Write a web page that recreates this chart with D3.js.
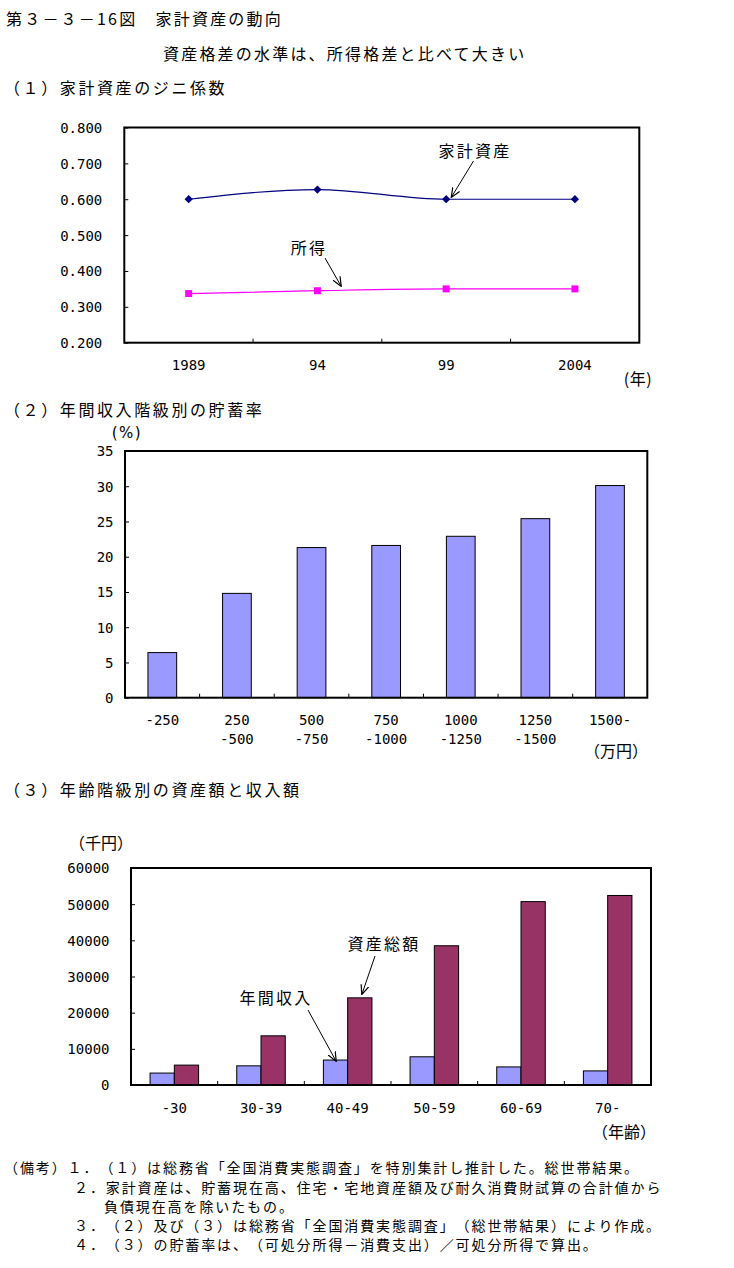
<!DOCTYPE html>
<html><head><meta charset="utf-8">
<script src="https://cdn.jsdelivr.net/npm/d3@7"></script>
<style>
html,body{margin:0;padding:0;background:#fff;}
svg{display:block;text-spacing-trim:space-all;}
</style>
</head><body>
<script>
// ---------- data ----------
const years = ["1989", "94", "99", "2004"];
const assetGini = [0.600, 0.627, 0.600, 0.600];
const incomeGini = [0.337, 0.345, 0.350, 0.350];
const giniTicks = [0.2, 0.3, 0.4, 0.5, 0.6, 0.7, 0.8];

const incomeClasses = ["-250", "250\n-500", "500\n-750", "750\n-1000", "1000\n-1250", "1250\n-1500", "1500-"];
const savingRate = [6.4, 14.8, 21.3, 21.6, 22.9, 25.4, 30.1];
const savingTicks = [0, 5, 10, 15, 20, 25, 30, 35];

const ageClasses = ["-30", "30-39", "40-49", "50-59", "60-69", "70-"];
const annualIncome = [3300, 5300, 6900, 7800, 5000, 3900];
const totalAssets = [5500, 13600, 24100, 38500, 50700, 52400];
const amountTicks = [0, 10000, 20000, 30000, 40000, 50000, 60000];

const notes = [
  "（備考）１．（１）は総務省「全国消費実態調査」を特別集計し推計した。総世帯結果。",
  "２．家計資産は、貯蓄現在高、住宅・宅地資産額及び耐久消費財試算の合計値から",
  "負債現在高を除いたもの。",
  "３．（２）及び（３）は総務省「全国消費実態調査」（総世帯結果）により作成。",
  "４．（３）の貯蓄率は、（可処分所得－消費支出）／可処分所得で算出。"
];

// ---------- setup ----------
const FONT = "'Noto Sans CJK JP',sans-serif";
const NUMFONT = "'DejaVu Sans Mono','Noto Sans Mono CJK JP',monospace";
const svg = d3.select("body").append("svg").attr("width", 734).attr("height", 1268)
  .style("font-family", FONT);
svg.append("rect").attr("width", 734).attr("height", 1268).attr("fill", "#fff");

const defs = svg.append("defs");
defs.append("marker").attr("id", "arr").attr("viewBox", "0 0 10 10")
  .attr("refX", 9).attr("refY", 5).attr("markerWidth", 10).attr("markerHeight", 10)
  .attr("markerUnits", "userSpaceOnUse").attr("orient", "auto")
  .append("path").attr("d", "M0,1 L9.5,5 L0,9").attr("fill", "none").attr("stroke", "#000").attr("stroke-width", 1.2);

function txt(x, y, s, o = {}) {
  return svg.append("text").attr("x", x).attr("y", y).attr("dominant-baseline", "central")
    .attr("text-anchor", o.anchor || "start").attr("font-size", o.size || 16)
    .attr("font-family", o.font || FONT)
    .attr("letter-spacing", o.ls == null ? 2.2 : o.ls).attr("fill", "#000").text(s);
}
function arrow(x1, y1, x2, y2) {
  svg.append("line").attr("x1", x1).attr("y1", y1).attr("x2", x2).attr("y2", y2)
    .attr("stroke", "#000").attr("stroke-width", 1).attr("marker-end", "url(#arr)");
}
function styleAxis(g) {
  g.select(".domain").remove();
  g.selectAll("line").attr("stroke", "#000").attr("stroke-width", 1);
  g.selectAll("text").attr("font-size", 14).attr("font-family", NUMFONT)
    .attr("fill", "#000");
}
function frame(x0, x1, y0, y1) {
  svg.append("rect").attr("x", x0).attr("y", y0).attr("width", x1 - x0).attr("height", y1 - y0)
    .attr("fill", "none").attr("stroke", "#000").attr("stroke-width", 2);
}
function boundaryTicks(scale, n, yBase) {
  const r = scale.range(), step = (r[1] - r[0]) / n;
  for (let i = 1; i < n; i++) {
    svg.append("line").attr("x1", r[0] + i * step).attr("x2", r[0] + i * step)
      .attr("y1", yBase).attr("y2", yBase - 4).attr("stroke", "#000");
  }
}

// ---------- titles ----------
txt(6, 18, "第３－３－16図　家計資産の動向");
txt(163, 53, "資産格差の水準は、所得格差と比べて大きい");
txt(4, 87, "（１）家計資産のジニ係数", { ls: 2.6 });
txt(4, 409, "（２）年間収入階級別の貯蓄率", { ls: 2.6 });
txt(4, 789, "（３）年齢階級別の資産額と収入額", { ls: 2.6 });

// ---------- chart 1 ----------
{
  const L = 124.3, R = 639.3, T = 127.5, B = 342.7;
  const x = d3.scaleBand().domain(years).range([L, R]);
  const y = d3.scaleLinear().domain([0.2, 0.8]).range([B, T]);
  const cx = d => x(d) + x.bandwidth() / 2;

  const ya = svg.append("g").attr("transform", `translate(${L},0)`)
    .call(d3.axisLeft(y).tickValues(giniTicks).tickFormat(d3.format(".3f")).tickSize(-4).tickPadding(22));
  styleAxis(ya);
  ya.selectAll("text").attr("dy", "0.35em");

  const xa = svg.append("g").attr("transform", `translate(0,${B})`)
    .call(d3.axisBottom(x).tickSize(0));
  styleAxis(xa);
  xa.selectAll("text").attr("y", 22).attr("dy", "0.35em");
  boundaryTicks(x, years.length, B);

  const line = d3.line().x((d, i) => cx(years[i])).y(d => y(d)).curve(d3.curveMonotoneX);
  svg.append("path").attr("d", line(assetGini)).attr("fill", "none").attr("stroke", "#000080").attr("stroke-width", 1.2);
  svg.append("path").attr("d", line(incomeGini)).attr("fill", "none").attr("stroke", "#FF00FF").attr("stroke-width", 1.2);

  svg.selectAll(".m1").data(assetGini).join("path")
    .attr("transform", (d, i) => `translate(${cx(years[i])},${y(d)}) rotate(45)`)
    .attr("d", d3.symbol(d3.symbolSquare, 34)).attr("fill", "#000080");
  svg.selectAll(".m2").data(incomeGini).join("path")
    .attr("transform", (d, i) => `translate(${cx(years[i])},${y(d)})`)
    .attr("d", d3.symbol(d3.symbolSquare, 49)).attr("fill", "#FF00FF");

  frame(L, R, T, B);
  txt(475, 150, "家計資産", { anchor: "middle" });
  arrow(473.5, 161, 451.5, 197);
  txt(309, 247, "所得", { anchor: "middle" });
  arrow(325, 258, 341, 286);
  txt(638, 378, "(年)", { anchor: "middle", ls: 0.5 });
}

// ---------- chart 2 ----------
{
  const L = 125, R = 647.3, T = 451, B = 697.7;
  const x = d3.scaleBand().domain(incomeClasses).range([L, R]).paddingInner(0.615).paddingOuter(0.3075);
  const y = d3.scaleLinear().domain([0, 35]).range([B, T]);

  svg.selectAll(".b2").data(savingRate).join("rect")
    .attr("x", (d, i) => x(incomeClasses[i])).attr("width", x.bandwidth())
    .attr("y", d => y(d)).attr("height", d => B - y(d))
    .attr("fill", "#9999FF").attr("stroke", "#000").attr("stroke-width", 1);

  const ya = svg.append("g").attr("transform", `translate(${L},0)`)
    .call(d3.axisLeft(y).tickValues(savingTicks).tickSize(-4).tickPadding(11.5));
  styleAxis(ya);
  ya.selectAll("text").attr("dy", "0.35em");

  const xa = svg.append("g").attr("transform", `translate(0,${B})`)
    .call(d3.axisBottom(x).tickSize(0));
  styleAxis(xa);
  xa.selectAll("text").each(function (d) {
    const t = d3.select(this).text("").attr("y", 0).attr("dy", null).attr("dominant-baseline", "central");
    d.split("\n").forEach((s, k) => t.append("tspan").attr("x", 0).attr("y", 22 + k * 19.5).text(s));
  });
  boundaryTicks(d3.scaleBand().domain(incomeClasses).range([L, R]), incomeClasses.length, B);

  frame(L, R, T, B);
  txt(127, 433, "(%)", { anchor: "middle", ls: 1.5, font: "'DejaVu Sans',sans-serif", size: 15 });
  txt(616, 750, "（万円）", { anchor: "middle", ls: 0 });
}

// ---------- chart 3 ----------
{
  const L = 131, R = 651, T = 868, B = 1085;
  const x0 = d3.scaleBand().domain(ageClasses).range([L, R]).paddingInner(0.44).paddingOuter(0.22);
  const x1 = d3.scaleBand().domain(["income", "assets"]).range([0, x0.bandwidth()]);
  const y = d3.scaleLinear().domain([0, 60000]).range([B, T]);

  svg.selectAll(".b3a").data(annualIncome).join("rect")
    .attr("x", (d, i) => x0(ageClasses[i]) + x1("income")).attr("width", x1.bandwidth())
    .attr("y", d => y(d)).attr("height", d => B - y(d))
    .attr("fill", "#9999FF").attr("stroke", "#000").attr("stroke-width", 1);
  svg.selectAll(".b3b").data(totalAssets).join("rect")
    .attr("x", (d, i) => x0(ageClasses[i]) + x1("assets")).attr("width", x1.bandwidth())
    .attr("y", d => y(d)).attr("height", d => B - y(d))
    .attr("fill", "#993366").attr("stroke", "#000").attr("stroke-width", 1);

  const ya = svg.append("g").attr("transform", `translate(${L},0)`)
    .call(d3.axisLeft(y).tickValues(amountTicks).tickFormat(d3.format("d")).tickSize(-4).tickPadding(21.5));
  styleAxis(ya);
  ya.selectAll("text").attr("dy", "0.35em");

  const xa = svg.append("g").attr("transform", `translate(0,${B})`)
    .call(d3.axisBottom(x0).tickSize(0));
  styleAxis(xa);
  xa.selectAll("text").attr("y", 23).attr("dy", "0.35em");
  boundaryTicks(d3.scaleBand().domain(ageClasses).range([L, R]), ageClasses.length, B);

  frame(L, R, T, B);
  txt(101, 842, "（千円）", { anchor: "middle", ls: 0 });
  txt(624, 1131, "（年齢）", { anchor: "middle", ls: 0 });
  txt(384, 943, "資産総額", { anchor: "middle" });
  arrow(375, 956, 362, 994);
  txt(276, 997, "年間収入", { anchor: "middle" });
  arrow(308, 1010, 336, 1061);
}

// ---------- notes ----------
const noteX = [4, 74, 104, 74, 74];
const noteY = [1167, 1187, 1206, 1225, 1244];
notes.forEach((s, i) => txt(noteX[i], noteY[i], s, { size: 14, ls: 1.9 }));
</script>
</body></html>
